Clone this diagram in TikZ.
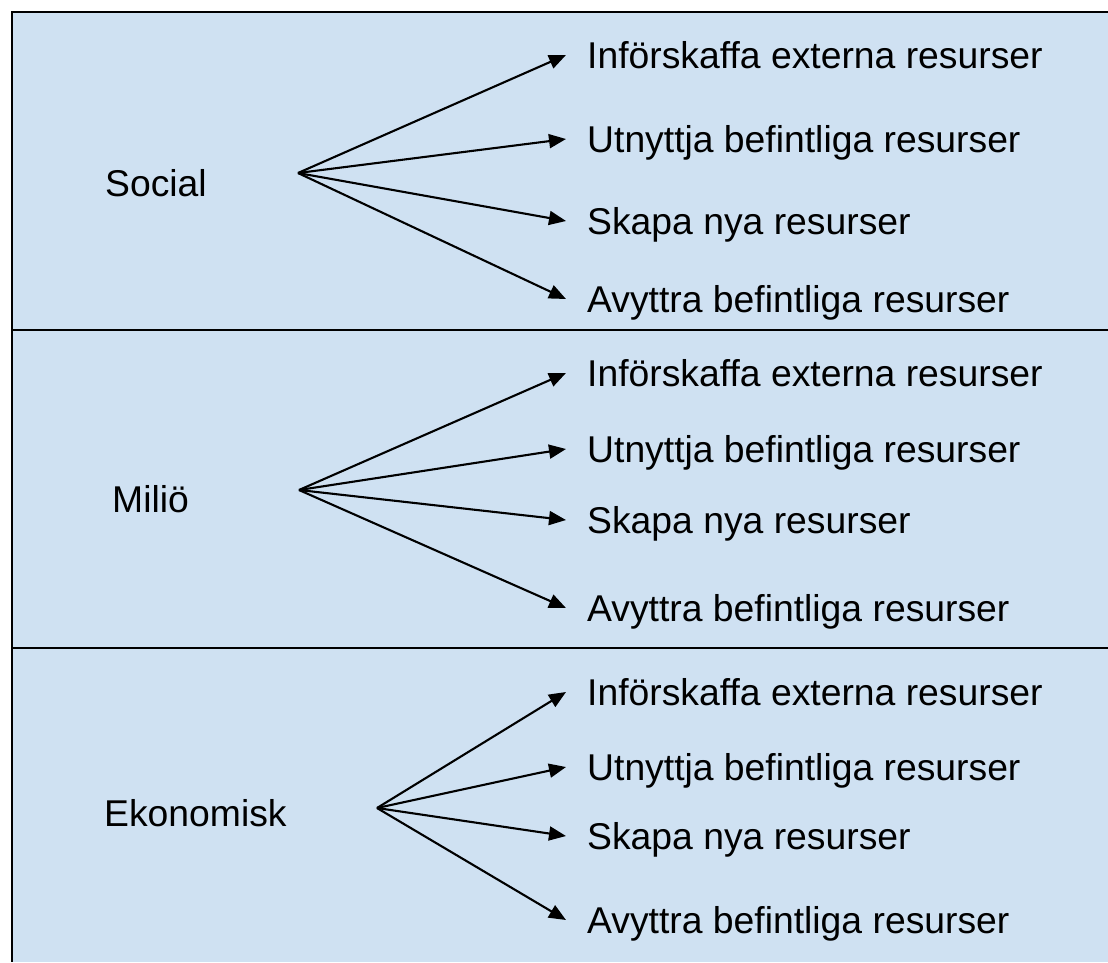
\documentclass[tikz,border=0pt]{standalone}
\usepackage{fontspec}
\setmainfont{Liberation Sans}
\usetikzlibrary{arrows.meta}
\definecolor{panel}{RGB}{207,225,242}
\begin{document}
\begin{tikzpicture}[x=1pt,y=-1pt,
  item/.style={anchor=west, inner xsep=21pt, inner ysep=0pt, text height=26.5pt, text depth=0pt, font=\fontsize{37.3}{44}\selectfont},
  lbl/.style={anchor=base west, inner sep=0pt, font=\fontsize{37.3}{44}\selectfont},
  fan/.style={line width=2.1pt, -{Triangle[length=17pt,width=14pt]}},
  rule/.style={line width=2.6pt}]
\useasboundingbox (0,0) rectangle (1108,962);
\fill[panel] (12,12) rectangle (1108,962);
\draw[rule] (1108,12) -- (12,12) -- (12,962);
\draw[rule] (12,330) -- (1108,330);
\draw[rule] (12,648) -- (1108,648);
% Social
\node[lbl] (social) at (105,196) {Social};
\coordinate (s0) at (298,173);
\node[item] (s1) at (566,55) {Införskaffa externa resurser};
\node[item] (s2) at (566,139) {Utnyttja befintliga resurser};
\node[item] (s3) at (566,221) {Skapa nya resurser};
\node[item] (s4) at (566,299) {Avyttra befintliga resurser};
\foreach \i in {1,...,4} \draw[fan] (s0) -- (s\i.west);
% Miljo
\node[lbl] (miljo) at (112,512) {Miliö};
\coordinate (m0) at (299,490);
\node[item] (m1) at (566,373) {Införskaffa externa resurser};
\node[item] (m2) at (566,449) {Utnyttja befintliga resurser};
\node[item] (m3) at (566,520) {Skapa nya resurser};
\node[item] (m4) at (566,608) {Avyttra befintliga resurser};
\foreach \i in {1,...,4} \draw[fan] (m0) -- (m\i.west);
% Ekonomisk
\node[lbl] (eko) at (104,826) {Ekonomisk};
\coordinate (e0) at (377,808);
\node[item] (e1) at (566,692) {Införskaffa externa resurser};
\node[item] (e2) at (566,767) {Utnyttja befintliga resurser};
\node[item] (e3) at (566,836) {Skapa nya resurser};
\node[item] (e4) at (566,920) {Avyttra befintliga resurser};
\foreach \i in {1,...,4} \draw[fan] (e0) -- (e\i.west);
\end{tikzpicture}
\end{document}
